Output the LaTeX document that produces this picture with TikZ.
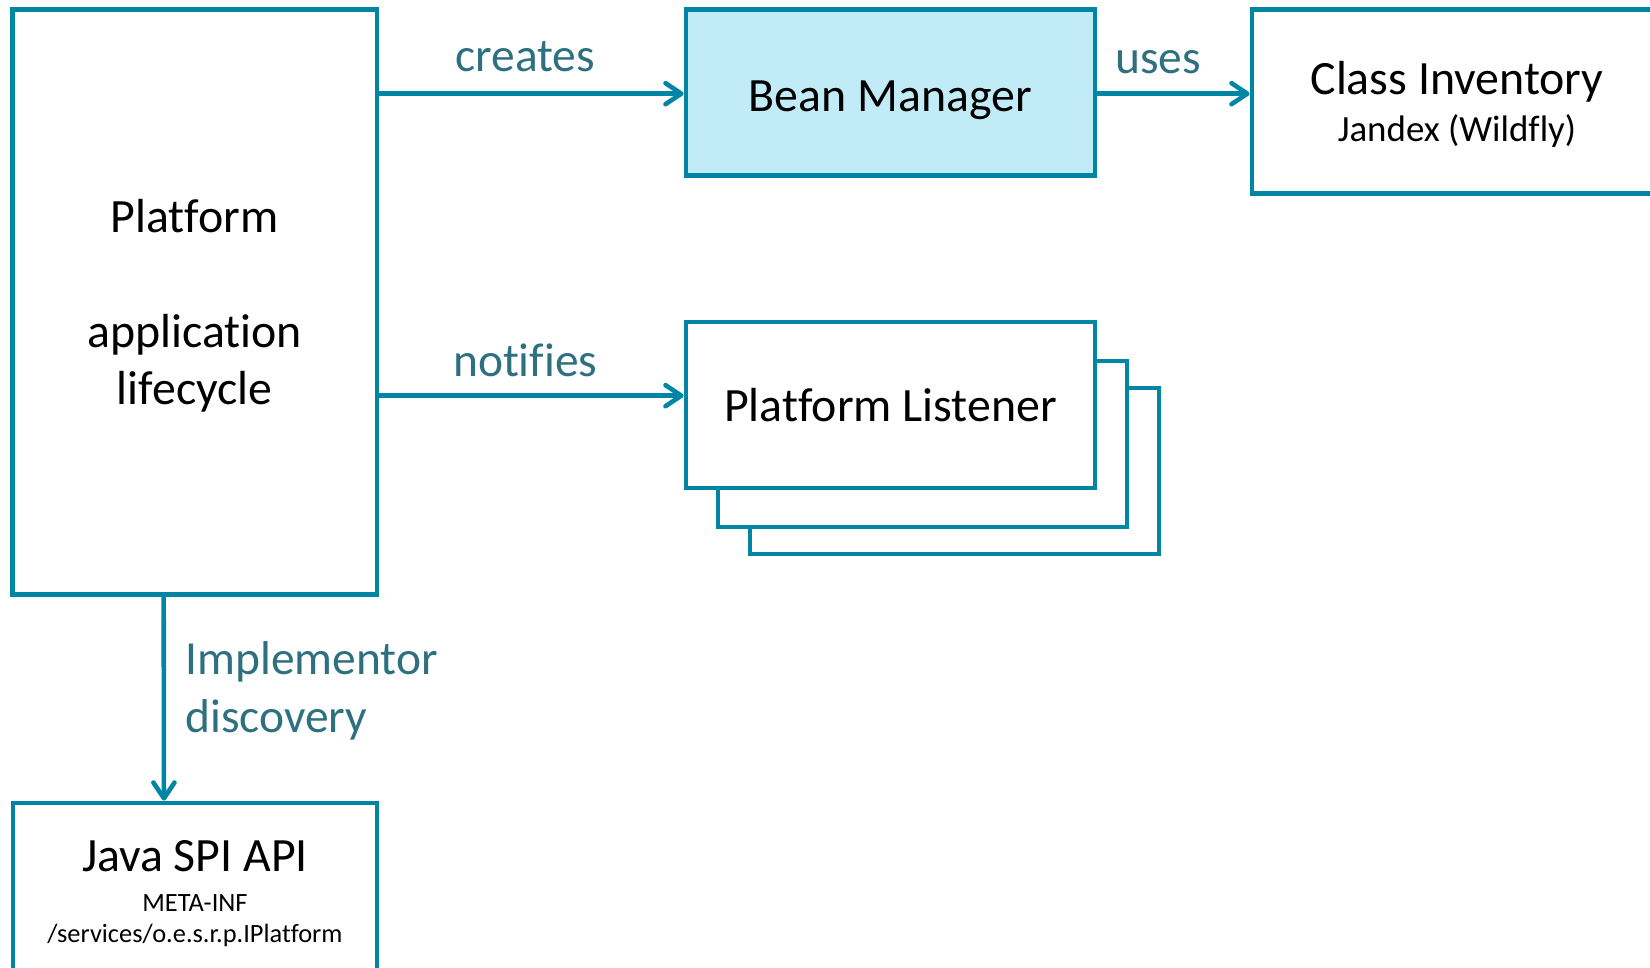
\documentclass[tikz,border=0pt]{standalone}
\usepackage{fontspec}
\setmainfont{Carlito}[Ligatures=NoCommon]
\usetikzlibrary{arrows.meta}

\definecolor{boxline}{RGB}{0,134,164}
\definecolor{lbltext}{RGB}{46,112,128}
\definecolor{beanfill}{RGB}{194,235,248}

\begin{document}
\begin{tikzpicture}[x=0.01cm, y=-0.01cm,
        box/.style={draw=boxline, line width=1.3pt, fill=white, inner sep=0pt, align=center,
            text depth=0pt, font=\fontsize{13.6}{16.3}\selectfont},
        arr/.style={draw=boxline, line width=1.3pt, -{Straight Barb[length=4.5pt,width=6pt,round]}},
        lbl/.style={text=lbltext, inner sep=0pt, font=\fontsize{13.5}{16.5}\selectfont}]
        \useasboundingbox (0,0) rectangle (1650,968);
        % left column
        \node[box, minimum width=3.64cm, minimum height=5.85cm] (plat) at (194.7,302)
            {Platform\\[16.3pt]application\\lifecycle};
        \node[box, minimum width=3.64cm, minimum height=1.77cm, font=\fontsize{7.5}{8.9}\selectfont] (spi) at (195,891.5)
            {{\fontsize{13.6}{16.3}\selectfont Java SPI API}\\[2.5pt]META-INF\\/services/o.e.s.r.p.IPlatform};
        % top row
        \node[box, fill=beanfill, minimum width=4.09cm, minimum height=1.66cm, text height=10.6pt] (bean) at (890.5,92.6) {Bean Manager};
        \node[box, minimum width=4.1cm, minimum height=1.84cm, text depth=-1.1pt] (cls) at (1457,101.5)
            {Class Inventory\\[-2.9pt]{\fontsize{10.5}{12.6}\selectfont Jandex (Wildfly)}};
        % stacked listeners
        \node[box, minimum width=4.09cm, minimum height=1.66cm] (lis3) at (954.5,471) {};
        \node[box, minimum width=4.09cm, minimum height=1.66cm] (lis2) at (922.5,444) {};
        \node[box, minimum width=4.09cm, minimum height=1.66cm] (lis) at (890.5,405) {Platform Listener};
        \coordinate (lisin) at ([yshift=0.093cm]lis.west);
        \coordinate (beanin) at ([yshift=-0.011cm]bean.west);
        \coordinate (beanout) at ([yshift=-0.011cm]bean.east);
        % connectors
        \draw[arr] (plat.east |- beanin) -- node[lbl, above=5.6pt, pos=0.48] {creates} (beanin);
        \draw[arr] (beanout) -- node[lbl, above=5pt, pos=0.4] {uses} (beanout -| cls.west);
        \draw[arr] (plat.east |- lisin) -- node[lbl, above=4.6pt, pos=0.48] {notifies} (lisin);
        \draw[arr] ([xshift=-0.31cm]plat.south) -- node[lbl, right=5.5pt, pos=0.46, align=left] {Implementor\\discovery} ([xshift=-0.31cm]spi.north);
\end{tikzpicture}
\end{document}
